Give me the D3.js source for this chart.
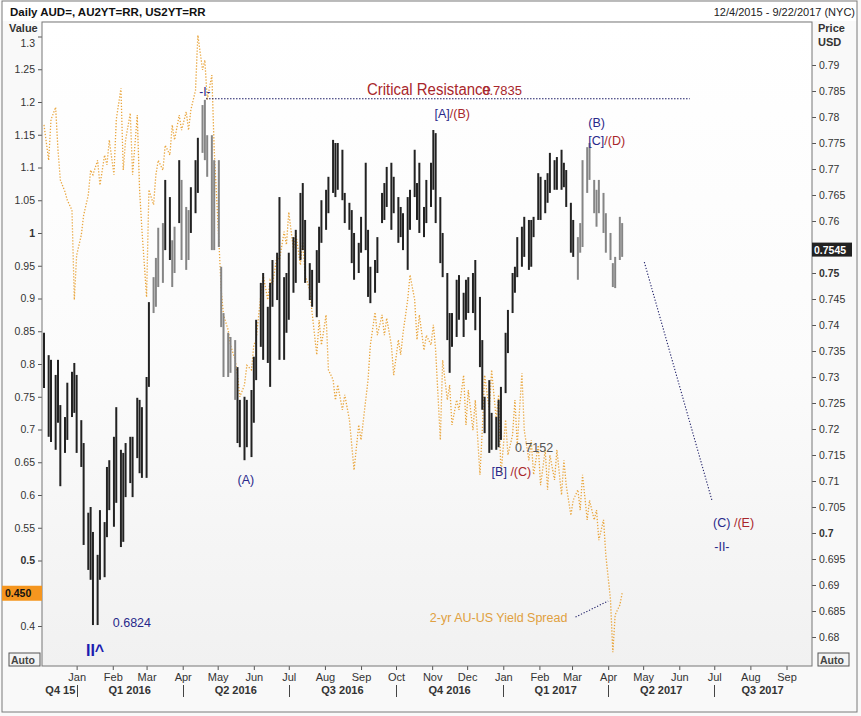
<!DOCTYPE html>
<html>
<head>
<meta charset="utf-8">
<script src="https://cdn.jsdelivr.net/npm/d3@7"></script>
<style>
body { margin: 0; background: #ffffff; }
text { font-family: "Liberation Sans", Arial, sans-serif; }
</style>
</head>
<body>
<script>
// AUD/USD daily bars (every second trading day)
var firstBarDate = "2015-12-04";
var audHigh = [
    0.7385,0.7342,0.7333,0.7304,0.7333,0.7246,0.7223,0.7289,0.7310,0.7327,
    0.7304,0.7217,0.7173,0.7039,0.7050,0.7002,0.6958,0.7044,0.7021,0.7127,
    0.7140,0.7185,0.7242,0.7160,0.7154,0.7173,0.7185,0.7185,0.7260,0.7256,
    0.7242,0.7300,0.7444,0.7492,0.7529,0.7587,0.7596,0.7679,0.7646,0.7563,
    0.7589,0.7717,0.7679,0.7627,0.7621,0.7665,0.7717,0.7760,0.7823,0.7833,
    0.7765,0.7765,0.7717,0.7717,0.7512,0.7423,0.7385,0.7377,0.7371,0.7319,
    0.7256,0.7262,0.7256,0.7275,0.7339,0.7410,0.7481,0.7500,0.7435,0.7481,
    0.7525,0.7539,0.7646,0.7492,0.7500,0.7539,0.7569,0.7583,0.7654,0.7673,
    0.7602,0.7519,0.7506,0.7544,0.7589,0.7640,0.7660,0.7685,0.7756,0.7750,
    0.7750,0.7737,0.7654,0.7635,0.7621,0.7577,0.7558,0.7608,0.7712,0.7583,
    0.7512,0.7525,0.7569,0.7654,0.7673,0.7704,0.7712,0.7685,0.7646,0.7627,
    0.7615,0.7646,0.7660,0.7737,0.7673,0.7712,0.7627,0.7679,0.7712,0.7775,
    0.7769,0.7646,0.7577,0.7500,0.7423,0.7423,0.7487,0.7496,0.7462,0.7487,
    0.7492,0.7500,0.7525,0.7454,0.7371,0.7262,0.7294,0.7231,0.7223,0.7256,
    0.7281,0.7385,0.7429,0.7500,0.7512,0.7569,0.7589,0.7608,0.7602,0.7602,
    0.7608,0.7692,0.7685,0.7679,0.7692,0.7731,0.7717,0.7723,0.7737,0.7712,
    0.7698,0.7635,0.7602,0.7569,0.7596,0.7717,0.7742,0.7750,0.7679,0.7660,
    0.7679,0.7654,0.7615,0.7577,0.7519,0.7531,0.7608,0.7596
];
var audLow = [
    0.7279,0.7185,0.7175,0.7160,0.7212,0.7090,0.7154,0.7179,0.7223,0.7231,
    0.7154,0.7127,0.6977,0.6929,0.6910,0.6823,0.6823,0.6910,0.6915,0.6992,
    0.7044,0.7012,0.7058,0.6973,0.6983,0.7069,0.7096,0.7069,0.7144,0.7115,
    0.7106,0.7106,0.7281,0.7423,0.7435,0.7473,0.7481,0.7544,0.7525,0.7473,
    0.7500,0.7596,0.7525,0.7506,0.7525,0.7577,0.7615,0.7654,0.7731,0.7717,
    0.7685,0.7544,0.7544,0.7550,0.7396,0.7300,0.7300,0.7308,0.7256,0.7173,
    0.7165,0.7140,0.7165,0.7146,0.7212,0.7294,0.7358,0.7333,0.7327,0.7281,
    0.7435,0.7448,0.7333,0.7333,0.7385,0.7410,0.7462,0.7481,0.7525,0.7544,
    0.7481,0.7448,0.7435,0.7415,0.7481,0.7558,0.7583,0.7615,0.7654,0.7646,
    0.7660,0.7640,0.7596,0.7583,0.7519,0.7487,0.7500,0.7539,0.7544,0.7454,
    0.7442,0.7462,0.7500,0.7596,0.7602,0.7627,0.7583,0.7615,0.7558,0.7569,
    0.7544,0.7506,0.7583,0.7646,0.7602,0.7577,0.7569,0.7596,0.7627,0.7660,
    0.7596,0.7519,0.7492,0.7371,0.7308,0.7358,0.7377,0.7410,0.7377,0.7410,
    0.7423,0.7423,0.7390,0.7319,0.7237,0.7192,0.7154,0.7160,0.7160,0.7165,
    0.7179,0.7269,0.7346,0.7423,0.7462,0.7492,0.7512,0.7531,0.7506,0.7512,
    0.7569,0.7602,0.7602,0.7615,0.7635,0.7654,0.7660,0.7660,0.7660,0.7665,
    0.7627,0.7539,0.7531,0.7487,0.7539,0.7550,0.7654,0.7679,0.7615,0.7589,
    0.7615,0.7577,0.7539,0.7525,0.7473,0.7471,0.7525,0.7531
];
var lastClose = 0.7545;

// 2-yr AU-US yield spread, same dates as the bars (left axis)
var spread = [
    1.165,1.111,1.173,1.192,1.127,1.081,1.063,1.050,1.035,0.898,
    0.966,0.997,1.027,1.058,1.096,1.089,1.111,1.073,1.119,1.104,
    1.142,1.089,1.173,1.221,1.096,1.142,1.183,1.089,1.180,1.066,
    1.005,0.902,1.066,1.043,1.089,1.111,1.096,1.134,1.119,1.165,
    1.142,1.180,1.157,1.185,1.157,1.188,1.218,1.302,1.249,1.264,
    1.203,1.241,1.127,0.989,0.913,0.875,0.852,0.829,0.806,0.783,
    0.750,0.768,0.798,0.791,0.829,0.837,0.905,0.936,0.898,0.928,
    0.921,0.966,0.959,1.002,0.982,1.032,0.974,1.000,0.951,0.989,
    0.936,0.913,0.878,0.814,0.867,0.829,0.875,0.791,0.776,0.745,
    0.768,0.730,0.753,0.715,0.676,0.638,0.707,0.684,0.745,0.776,
    0.829,0.879,0.844,0.875,0.844,0.870,0.829,0.783,0.837,0.814,
    0.847,0.898,0.936,0.898,0.837,0.875,0.821,0.844,0.829,0.860,
    0.821,0.684,0.806,0.745,0.768,0.707,0.745,0.730,0.783,0.707,
    0.760,0.699,0.745,0.631,0.699,0.783,0.730,0.791,0.715,0.753,
    0.631,0.715,0.661,0.692,0.745,0.676,0.786,0.699,0.653,0.684,
    0.631,0.676,0.615,0.669,0.608,0.661,0.623,0.669,0.600,0.653,
    0.615,0.569,0.592,0.608,0.577,0.631,0.562,0.592,0.562,0.577,
    0.531,0.562,0.508,0.440,0.360,0.417,0.432,0.450
];

// stretches drawn as grey bars
var grayRanges = [
    ["2016-03-05", "2016-03-09"], ["2016-03-11", "2016-03-16"],
    ["2016-03-22", "2016-03-28"], ["2016-03-31", "2016-04-06"],
    ["2016-04-15", "2016-05-16"], ["2017-03-03", "2017-04-20"]
];

var leftTicks = [0.4, 0.45, 0.5, 0.55, 0.6, 0.65, 0.7, 0.75, 0.8, 0.85, 0.9, 0.95,
    1, 1.05, 1.1, 1.15, 1.2, 1.25, 1.3];
var leftBold = [1, 0.5];
var rightTicks = [0.68, 0.685, 0.69, 0.695, 0.7, 0.705, 0.71, 0.715, 0.72, 0.725, 0.73,
    0.735, 0.74, 0.745, 0.75, 0.755, 0.76, 0.765, 0.77, 0.775, 0.78, 0.785, 0.79];
var rightBold = [0.75, 0.7];
// labels covered by the last-value tags
var leftHidden = [0.45];
var rightHidden = [0.755];
var monthTicks = ["2016-01-01","2016-02-01","2016-03-01","2016-04-01","2016-05-01","2016-06-01",
    "2016-07-01","2016-08-01","2016-09-01","2016-10-01","2016-11-01","2016-12-01",
    "2017-01-01","2017-02-01","2017-03-01","2017-04-01","2017-05-01","2017-06-01",
    "2017-07-01","2017-08-01","2017-09-01"];
var monthLabels = ["Jan","Feb","Mar","Apr","May","Jun","Jul","Aug","Sep","Oct","Nov","Dec",
    "Jan","Feb","Mar","Apr","May","Jun","Jul","Aug","Sep"];
var quarterBounds = ["2015-12-04","2016-01-01","2016-04-01","2016-07-01","2016-10-01",
    "2017-01-01","2017-04-01","2017-07-01","2017-09-22"];
var quarterNames = ["Q4 15","Q1 2016","Q2 2016","Q3 2016","Q4 2016","Q1 2017","Q2 2017","Q3 2017"];

var navy = "#28288a", red = "#a8262b";

var parse = d3.utcParse("%Y-%m-%d");

// bar dates: every second weekday from the first bar
var start = parse(firstBarDate);
var weekdays = d3.utcDay.range(start, d3.utcDay.offset(start, 540)).filter(function (d) {
    return d.getUTCDay() > 0 && d.getUTCDay() < 6;
});
var bars = audHigh.map(function (h, i) {
    return {date: weekdays[i * 2], high: h, low: audLow[i], spread: spread[i]};
});

var x = d3.scaleUtc().domain([parse("2015-12-04"), parse("2017-09-22")]).range([44, 811]);
var yL = d3.scaleLinear().domain([0.4, 1.2]).range([626, 102]);
var yR = d3.scaleLinear().domain([0.68, 0.79]).range([637, 65]);

var svg = d3.select("body")
    .append("svg")
    .attr("width", 861)
    .attr("height", 716);

svg.append("rect").attr("width", 861).attr("height", 716).attr("fill", "#f9f9f9");
svg.append("rect").attr("x", 2).attr("y", 1).attr("width", 855).attr("height", 20).attr("fill", "#ffffff");

var defs = svg.append("defs");
var grad = defs.append("linearGradient").attr("id", "bg")
    .attr("x1", 0).attr("y1", 0).attr("x2", 0).attr("y2", 1);
grad.append("stop").attr("offset", "0%").attr("stop-color", "#ffffff");
grad.append("stop").attr("offset", "55%").attr("stop-color", "#fbfbfb");
grad.append("stop").attr("offset", "100%").attr("stop-color", "#f1f1f1");
defs.append("clipPath").attr("id", "clip")
    .append("rect").attr("x", 42).attr("y", 22).attr("width", 770).attr("height", 644);

svg.append("rect")
    .attr("x", 42).attr("y", 22).attr("width", 770).attr("height", 644)
    .attr("fill", "url(#bg)");

// outer frame
svg.append("rect")
    .attr("x", 2).attr("y", 1).attr("width", 855).attr("height", 711)
    .attr("fill", "none").attr("stroke", "#7a7a7a");

// header
svg.append("text").attr("x", 10).attr("y", 16)
    .attr("font-size", 11.5).attr("font-weight", "bold").attr("fill", "#111")
    .text("Daily AUD=, AU2YT=RR, US2YT=RR");
svg.append("text").attr("x", 855).attr("y", 16).attr("text-anchor", "end")
    .attr("font-size", 11).attr("fill", "#222")
    .text("12/4/2015 - 9/22/2017 (NYC)");

var plot = svg.append("g").attr("clip-path", "url(#clip)");

function isGray(d) {
    return grayRanges.some(function (r) {
        return d >= parse(r[0]) && d <= parse(r[1]);
    });
}

// yield spread (dotted)
var spreadLine = d3.line()
    .x(function (d) { return x(d.date); })
    .y(function (d) { return yL(d.spread); });

plot.append("path")
    .datum(bars)
    .attr("d", spreadLine)
    .attr("fill", "none")
    .attr("stroke", "#e9a53c")
    .attr("stroke-width", 1.3)
    .attr("stroke-dasharray", "1.3,1.7");

// AUD bars
plot.selectAll("line.bar")
    .data(bars)
    .enter().append("line")
    .attr("class", "bar")
    .attr("x1", function (d) { return x(d.date); })
    .attr("x2", function (d) { return x(d.date); })
    .attr("y1", function (d) { return yR(d.high); })
    .attr("y2", function (d) { return yR(d.low); })
    .attr("stroke", function (d) { return isGray(d.date) ? "#858585" : "#222222"; })
    .attr("stroke-width", 2);

// annotation lines
var resistance = [["2016-04-21", 0.7835], ["2017-06-10", 0.7835]];
var projection = [["2017-05-02", 0.7521], ["2017-06-29", 0.7063]];
var pointer = [["2017-03-04", 0.4137], ["2017-04-01", 0.4382]];

function seg(pts, yScale, dash) {
    plot.append("line")
        .attr("x1", x(parse(pts[0][0]))).attr("y1", yScale(pts[0][1]))
        .attr("x2", x(parse(pts[1][0]))).attr("y2", yScale(pts[1][1]))
        .attr("stroke", "#1c1c66").attr("stroke-width", 1.1)
        .attr("stroke-dasharray", dash);
}
seg(resistance, yR, "1.5,1.5");
seg(projection, yR, "1.2,1.8");
seg(pointer, yL, "1.2,1.8");

// annotation texts (date, price on right axis, text parts)
var notes = [
    {d: "2016-04-20", p: 0.7840, parts: [["-I-", navy]], size: 12, anchor: "middle"},
    {d: "2016-09-06", p: 0.7842, parts: [["Critical Resistance", red]], size: 16, len: 124},
    {d: "2016-12-14", p: 0.7842, parts: [["0.7835", red]], size: 13},
    {d: "2016-11-03", p: 0.7798, parts: [["[A]", navy], ["/(B)", red]], size: 12.5},
    {d: "2017-03-15", p: 0.7781, parts: [["(B)", navy]], size: 12.5},
    {d: "2017-03-15", p: 0.7746, parts: [["[C]", navy], ["/(D)", red]], size: 12.5},
    {d: "2016-05-18", p: 0.7094, parts: [["(A)", navy]], size: 12.5},
    {d: "2016-12-22", p: 0.7110, parts: [["[B]", navy], [" /(C)", red]], size: 12.5},
    {d: "2017-01-11", p: 0.7156, parts: [["0.7152", "#555555"]], size: 12.5},
    {d: "2016-02-01", p: 0.6819, parts: [["0.6824", navy]], size: 12.5},
    {d: "2016-01-09", p: 0.6763, parts: [["II^", "#1c1cb0"]], size: 16, weight: "bold"},
    {d: "2017-06-30", p: 0.7012, parts: [["(C)", navy], [" /(E)", red]], size: 12.5},
    {d: "2017-07-01", p: 0.6965, parts: [["-II-", navy]], size: 12.5},
    {d: "2016-10-30", p: 0.6829, parts: [["2-yr AU-US Yield Spread", "#e0a040"]], size: 12.5}
];

notes.forEach(function (n) {
    var t = svg.append("text")
        .attr("x", x(parse(n.d)))
        .attr("y", yR(n.p))
        .attr("font-size", n.size)
        .attr("font-weight", n.weight || "normal")
        .attr("text-anchor", n.anchor || "start");
    if (n.len) t.attr("textLength", n.len).attr("lengthAdjust", "spacingAndGlyphs");
    n.parts.forEach(function (p) {
        t.append("tspan").attr("fill", p[1]).text(p[0]);
    });
});

// left axis
var fmt = d3.format("~g");
var gL = svg.append("g")
    .attr("transform", "translate(42,0)")
    .call(d3.axisLeft(yL).tickValues(leftTicks)
        .tickFormat(function (d) { return leftHidden.indexOf(d) >= 0 ? "" : fmt(d); })
        .tickSize(4).tickPadding(3));
gL.select(".domain").remove();
gL.selectAll("line").attr("stroke", "#555");
gL.selectAll("text")
    .attr("font-family", "Liberation Sans, Arial, sans-serif")
    .attr("font-size", 10.5)
    .attr("fill", "#333")
    .attr("font-weight", function (d) { return leftBold.indexOf(d) >= 0 ? "bold" : "normal"; })
    .attr("y", function (d) { return Math.max(0, 43 - yL(d)); });

// right axis
var gR = svg.append("g")
    .attr("transform", "translate(812,0)")
    .call(d3.axisRight(yR).tickValues(rightTicks)
        .tickFormat(function (d) { return rightHidden.indexOf(d) >= 0 ? "" : fmt(d); })
        .tickSize(4).tickPadding(3));
gR.select(".domain").remove();
gR.selectAll("line").attr("stroke", "#555");
gR.selectAll("text")
    .attr("font-family", "Liberation Sans, Arial, sans-serif")
    .attr("font-size", 10.5)
    .attr("fill", "#333")
    .attr("font-weight", function (d) { return rightBold.indexOf(d) >= 0 ? "bold" : "normal"; });

// bottom axis
var gX = svg.append("g")
    .attr("transform", "translate(0,666)")
    .call(d3.axisBottom(x).tickValues(monthTicks.map(parse))
        .tickFormat(function (d, i) { return monthLabels[i]; })
        .tickSize(4).tickPadding(3));
gX.select(".domain").remove();
gX.selectAll("line").attr("stroke", "#555");
gX.selectAll("text")
    .attr("font-family", "Liberation Sans, Arial, sans-serif")
    .attr("font-size", 11)
    .attr("fill", "#333");

quarterNames.forEach(function (q, i) {
    var a = x(parse(quarterBounds[i])), b = x(parse(quarterBounds[i + 1]));
    svg.append("text")
        .attr("x", (a + b) / 2).attr("y", 694)
        .attr("text-anchor", "middle")
        .attr("font-size", 11).attr("font-weight", "bold").attr("fill", "#333")
        .text(q);
    if (i > 0) {
        svg.append("line")
            .attr("x1", Math.round(a) + 0.5).attr("x2", Math.round(a) + 0.5)
            .attr("y1", 685).attr("y2", 697)
            .attr("stroke", "#444").attr("stroke-width", 1);
    }
});

// plot frame
svg.append("rect")
    .attr("x", 42).attr("y", 22).attr("width", 770).attr("height", 644)
    .attr("fill", "none").attr("stroke", "#777");

// axis titles
svg.append("text").attr("x", 9).attr("y", 32)
    .attr("font-size", 11).attr("font-weight", "bold").attr("fill", "#333").text("Value");
svg.append("text").attr("x", 818).attr("y", 32)
    .attr("font-size", 11).attr("font-weight", "bold").attr("fill", "#333").text("Price");
svg.append("text").attr("x", 818).attr("y", 46)
    .attr("font-size", 11).attr("font-weight", "bold").attr("fill", "#333").text("USD");

// "Auto" boxes
[[9, 653], [818, 653]].forEach(function (p) {
    svg.append("rect").attr("x", p[0]).attr("y", p[1]).attr("width", 31).attr("height", 13)
        .attr("fill", "#f4f4f4").attr("stroke", "#555");
    svg.append("text").attr("x", p[0] + 2).attr("y", p[1] + 10.5)
        .attr("font-size", 10.5).attr("font-weight", "bold").attr("fill", "#444").text("Auto");
});

// last value tags
var lastSpread = spread[spread.length - 1];
svg.append("rect")
    .attr("x", 2).attr("y", yL(lastSpread) - 7.5).attr("width", 40).attr("height", 15)
    .attr("fill", "#f5961f");
svg.append("text")
    .attr("x", 5).attr("y", yL(lastSpread) + 4)
    .attr("font-size", 10.5).attr("font-weight", "bold").attr("fill", "#111")
    .text(d3.format(".3f")(lastSpread));

svg.append("rect")
    .attr("x", 812).attr("y", yR(lastClose) - 7).attr("width", 40).attr("height", 14)
    .attr("fill", "#222");
svg.append("text")
    .attr("x", 814).attr("y", yR(lastClose) + 4)
    .attr("font-size", 10.5).attr("font-weight", "bold").attr("fill", "#ffffff")
    .text(d3.format(".4f")(lastClose));
</script>
</body>
</html>
